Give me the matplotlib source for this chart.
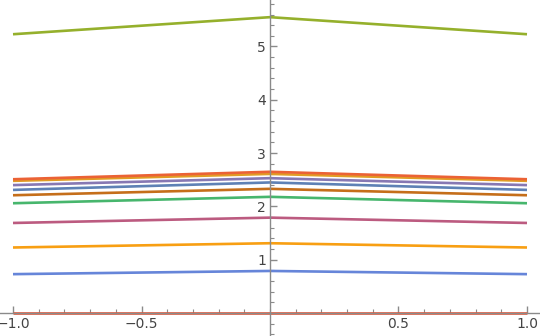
import matplotlib
matplotlib.use("Agg")
import matplotlib.pyplot as plt
from matplotlib.ticker import MultipleLocator, FixedLocator

x = [-1.0, 0.0, 1.0]
series = [
    [0.00, 0.00, 0.00],
    [0.73, 0.79, 0.73],
    [1.23, 1.31, 1.23],
    [1.69, 1.79, 1.69],
    [2.06, 2.18, 2.06],
    [2.21, 2.33, 2.21],
    [2.31, 2.45, 2.31],
    [2.40, 2.53, 2.40],
    [2.48, 2.61, 2.48],
    [2.51, 2.65, 2.51],
    [5.23, 5.55, 5.23],
]
colors = ["#E95536", "#6685D9", "#F89F13", "#BC5B80", "#47B66D", "#C56E1A",
          "#5E81B5", "#8778B3", "#E19C24", "#EB6235", "#95B02C"]
xticks = [-1.0, -0.5, 0.5, 1.0]
xticklabels = ["\u22121.0", "\u22120.5", "0.5", "1.0"]
yticks = [1, 2, 3, 4, 5]

fig = plt.figure(figsize=(5.4, 3.36), dpi=100)
ax = fig.add_axes([0, 0, 1, 1])
for ys, c in zip(series, colors):
    ax.plot(x, ys, color=c, lw=1.9, solid_capstyle="butt", clip_on=False)

ax.set_xlim(-1.0506, 1.0506)
ax.set_ylim(-0.43, 5.872)
for s in ["top", "right"]:
    ax.spines[s].set_visible(False)
ax.spines["left"].set_position(("data", 0))
ax.spines["bottom"].set_position(("data", 0))
axcol = "#8a8a8a"
ax.spines["left"].set_color(axcol)
ax.spines["bottom"].set_color(axcol)
ax.spines["left"].set_linewidth(1.0)
ax.spines["bottom"].set_linewidth(1.0)
ax.patch.set_alpha(0)

ax.xaxis.set_major_locator(FixedLocator(xticks))
ax.set_xticklabels(xticklabels)
ax.xaxis.set_minor_locator(MultipleLocator(0.1))
ax.yaxis.set_major_locator(FixedLocator(yticks))
ax.yaxis.set_minor_locator(MultipleLocator(0.2))
ax.tick_params(axis="both", which="major", direction="in", length=5, width=1, color=axcol,
               labelsize=10, labelcolor="#444444")
ax.tick_params(axis="both", which="minor", direction="in", length=3, width=0.8, color=axcol)
ax.tick_params(axis="x", pad=3)
ax.tick_params(axis="y", pad=3)

fig.savefig("out.png", dpi=100)
